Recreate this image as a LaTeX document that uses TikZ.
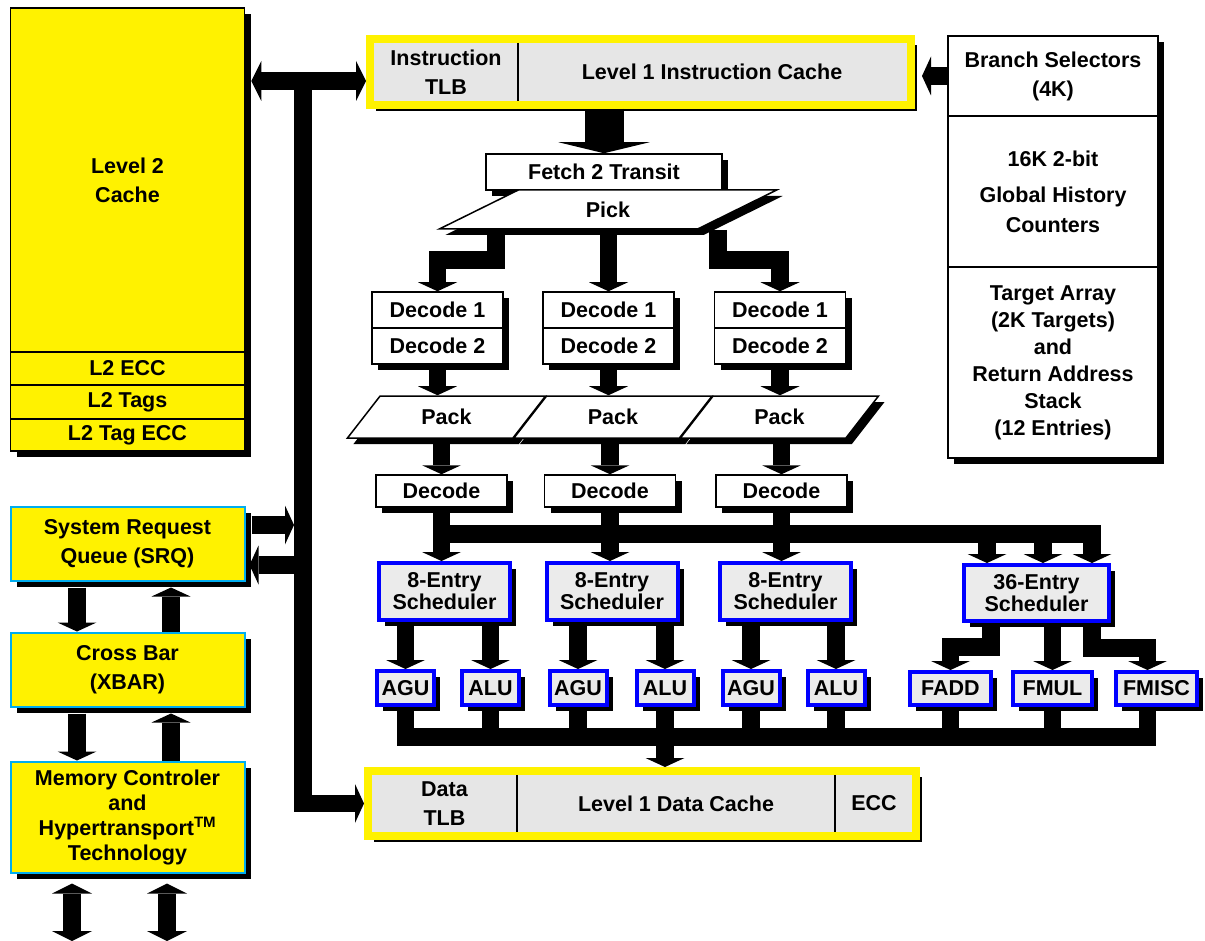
\documentclass[tikz,border=0pt]{standalone}
\usepackage{fontspec}
\setmainfont{Liberation Sans}
\usetikzlibrary{arrows.meta,calc,positioning,shapes.geometric,shadows}
\definecolor{cachegray}{HTML}{E6E6E6}
\definecolor{schedgray}{HTML}{EBEBEB}
\tikzset{
text_only/.style={
	% No room round the text
	inner sep=0pt,
	% Font
	font=\fontsize{21.5}{29}\selectfont\bfseries,
	align=center
},
shadow_box/.style={
	text_only,
	% The shape:
	rectangle,
	% A black shadow, down and to the right
	drop shadow={shadow xshift=6pt, shadow yshift=-6pt, fill=black, opacity=1}
},
% yellow blocks of the left column
l2_box/.style={shadow_box, draw=black, line width=1.5pt, fill=yellow},
sys_box/.style={shadow_box, draw=cyan, line width=2pt, fill=yellow},
% the two level 1 caches
cache_box/.style={shadow_box, draw=yellow, line width=8pt, fill=cachegray},
% white pipeline stages
stage_box/.style={shadow_box, draw=black, line width=1.5pt, fill=white},
slant_box/.style={stage_box, trapezium, trapezium stretches=true},
% schedulers and units
sched_box/.style={shadow_box, draw=blue, line width=4pt, fill=schedgray},
divider/.style={line width=1.5pt, black},
% the fat black arrows
big_arrow/.style={line width=17.5pt, -{Triangle[width=39pt, length=9pt, line width=0pt]}},
both_arrow/.style={line width=17.5pt, {Triangle[width=40pt, length=10pt, line width=0pt]}-{Triangle[width=40pt, length=10pt, line width=0pt]}},
fat_arrow/.style={line width=39pt, -{Triangle[width=91pt, length=11pt, line width=0pt]}},
bus_line/.style={line width=17.5pt}
}
\begin{document}
\begin{tikzpicture}[x=1pt, y=-1pt, line join=miter]
\useasboundingbox (0,0) rectangle (1205,941);
% left column
\node[l2_box, minimum width=234pt, minimum height=344pt] (l2) at (127.5,180) {Level 2\\Cache};
\node[l2_box, minimum width=234pt, minimum height=33pt] (l2ecc) at (127.5,368.5) {L2 ECC};
\node[l2_box, minimum width=234pt, minimum height=34pt] (l2tags) at (127.5,402) {L2 Tags};
\node[l2_box, minimum width=234pt, minimum height=32pt] (l2tagecc) at (127.5,435) {L2 Tag ECC};
\node[sys_box, minimum width=234pt, minimum height=74pt] (srq) at (127.5,543.5) {System Request\\Queue (SRQ)};
\node[sys_box, minimum width=234pt, minimum height=74pt] (xbar) at (127.5,669.5) {Cross Bar\\(XBAR)};
\node[sys_box, minimum width=234pt, minimum height=111pt, font=\fontsize{21.5}{25}\selectfont\bfseries] (mc) at (127.5,817)
	{Memory Controler\\and\\Hypertransport\textsuperscript{TM}\\Technology};
% level 1 caches
\node[cache_box, minimum width=541pt, minimum height=66pt] (l1i) at (640.5,72) {};
\node[text_only, minimum width=144pt, minimum height=58pt] (itlb) at (446,72) {Instruction\\TLB};
\node[text_only] (icache) at (712,72) {Level 1 Instruction Cache};
\draw[divider] (itlb.north east) -- (itlb.south east);
\node[cache_box, minimum width=548pt, minimum height=65pt] (l1d) at (642,803.5) {};
\node[text_only, minimum width=145pt, minimum height=57pt] (dtlb) at (444.5,803.5) {Data\\TLB};
\node[text_only, minimum width=318pt, minimum height=57pt] (dcache) at (676,803.5) {Level 1 Data Cache};
\node[text_only] (decc) at (874,803.5) {ECC};
\draw[divider] (dtlb.north east) -- (dtlb.south east);
\draw[divider] (dcache.north east) -- (dcache.south east);
% branch prediction
\node[stage_box, minimum width=210pt, minimum height=80pt] (bsel) at (1053,76) {Branch Selectors\\(4K)};
\node[stage_box, minimum width=210pt, minimum height=151pt, font=\fontsize{21.5}{30}\selectfont\bfseries] (bghc) at (1053,191.5)
	{16K 2-bit\\[6pt]Global History\\Counters};
\node[stage_box, minimum width=210pt, minimum height=191pt, font=\fontsize{21.5}{27}\selectfont\bfseries] (btgt) at (1053,362.5)
	{Target Array\\(2K Targets)\\and\\Return Address\\Stack\\(12 Entries)};
% fetch and decode
\node[stage_box, minimum width=236pt, minimum height=36pt] (fetch) at (604,172) {Fetch 2 Transit};
\node[slant_box, trapezium left angle=39, trapezium right angle=141, minimum width=338pt, minimum height=39pt] (pick) at (608,209.5) {Pick};
\foreach \c/\x in {a/437.5, b/608.5, c/780} {
	\node[stage_box, minimum width=131pt, minimum height=36pt] (d1\c) at (\x,310) {Decode 1};
	\node[stage_box, minimum width=131pt, minimum height=36pt] (d2\c) at (\x,346) {Decode 2};
}
\foreach \c/\x in {a/446.5, b/613, c/779.5}
	\node[slant_box, trapezium left angle=52, trapezium right angle=128, minimum width=199pt, minimum height=42pt] (pack\c) at (\x,417) {Pack};
\foreach \c/\x in {a/441.5, b/610, c/781.5}
	\node[stage_box, minimum width=131pt, minimum height=32pt] (dec\c) at (\x,491) {Decode};
% schedulers and execution units
\foreach \c/\x in {a/444.5, b/612, c/785.5}
	\node[sched_box, minimum width=131pt, minimum height=57pt, font=\fontsize{21.5}{22}\selectfont\bfseries] (sch\c) at (\x,591.5) {8-Entry\\Scheduler};
\node[sched_box, minimum width=145pt, minimum height=56pt, font=\fontsize{21.5}{22}\selectfont\bfseries] (sch36) at (1036.5,593) {36-Entry\\Scheduler};
\foreach \u/\x/\t in {agua/405.5/AGU, alua/490.5/ALU, agub/578/AGU, alub/665/ALU, aguc/751/AGU, aluc/836/ALU}
	\node[sched_box, minimum width=57pt, minimum height=34pt] (\u) at (\x,688) {\t};
\node[sched_box, minimum width=81pt, minimum height=33pt] (fadd) at (950.5,688.5) {FADD};
\node[sched_box, minimum width=79pt, minimum height=33pt] (fmul) at (1052.5,688.5) {FMUL};
\node[sched_box, minimum width=81pt, minimum height=33pt] (fmisc) at (1156.5,688.5) {FMISC};
% bus points
\coordinate (sysbus) at (303,81);
\coordinate (ibus) at (444,534);
\coordinate (fbus) at (405,737);
\coordinate (ext) at (0,941);
% instruction flow
\draw[fat_arrow] (fetch.north |- l1i.south) -- (fetch.north);
\draw[big_arrow] (bsel.west) -- ($(l1i.east |- bsel.west)+(7,0)$);
\draw[big_arrow] ($(pick.south)+(-112,0)$) -- ++(0,30) -| (d1a.north);
\draw[big_arrow] (pick.south -| d1b.north) -- (d1b.north);
\draw[big_arrow] ($(pick.south)+(110,0)$) -- ++(0,30) -| (d1c.north);
\foreach \c in {a,b,c} {
	\draw[big_arrow] (d2\c.south) -- (d2\c.south |- pack\c.north);
	\draw[big_arrow] (pack\c.south -| dec\c.south) -- (dec\c.north);
	\draw[big_arrow] (dec\c.south) -- (dec\c.south |- sch\c.north);
}
\draw[big_arrow] (deca.south) -- (deca.south |- ibus) -| ($(sch36.north)+(55.5,0)$);
\foreach \dx in {-49.5,6.5}
	\draw[big_arrow] ($(sch36.north |- ibus)+(\dx,0)$) -- ($(sch36.north)+(\dx,0)$);
\foreach \s/\u in {scha/agua, scha/alua, schb/agub, schb/alub, schc/aguc, schc/aluc, sch36/fmul}
	\draw[big_arrow] (\s.south -| \u.north) -- (\u.north);
\draw[big_arrow] ($(sch36.south)+(-45.5,0)$) -- ++(0,24) -| (fadd.north);
\draw[big_arrow] ($(sch36.south)+(55.5,0)$) -- ++(0,25) -| ($(fmisc.north)+(-9,0)$);
% results to the data cache
\draw[bus_line] (agua.south) -- (agua.south |- fbus) -| ($(fmisc.south)+(-9,0)$);
\foreach \u in {alua,agub,alub,aguc,aluc,fadd,fmul}
	\draw[bus_line] (\u.south) -- (\u.south |- fbus);
\draw[big_arrow] (alub.south |- fbus) -- (alub.south |- l1d.north);
% system side
\draw[both_arrow] ($(l2.east |- sysbus)+(6,0)$) -- (l1i.west |- sysbus);
\draw[big_arrow] (sysbus) -- (sysbus |- l1d.west) -- (l1d.west);
\draw[big_arrow] ($(srq.east)+(6,-18.5)$) -- ($(srq.east -| sysbus)+(-9,-18.5)$);
\draw[big_arrow] ($(srq.east -| sysbus)+(-9,21.5)$) -- ($(srq.east)+(4,21.5)$);
\draw[big_arrow] ($(srq.south)+(-50.5,6)$) -- ($(xbar.north)+(-50.5,0)$);
\draw[big_arrow] ($(xbar.north)+(43.5,0)$) -- ($(srq.south)+(43.5,6)$);
\draw[big_arrow] ($(xbar.south)+(-50.5,6)$) -- ($(mc.north)+(-50.5,0)$);
\draw[big_arrow] ($(mc.north)+(43.5,0)$) -- ($(xbar.south)+(43.5,6)$);
\draw[both_arrow] ($(mc.south)+(-55.5,10)$) -- ($(mc.south |- ext)+(-55.5,0)$);
\draw[both_arrow] ($(mc.south)+(39.5,10)$) -- ($(mc.south |- ext)+(39.5,0)$);
\end{tikzpicture}
\end{document}
